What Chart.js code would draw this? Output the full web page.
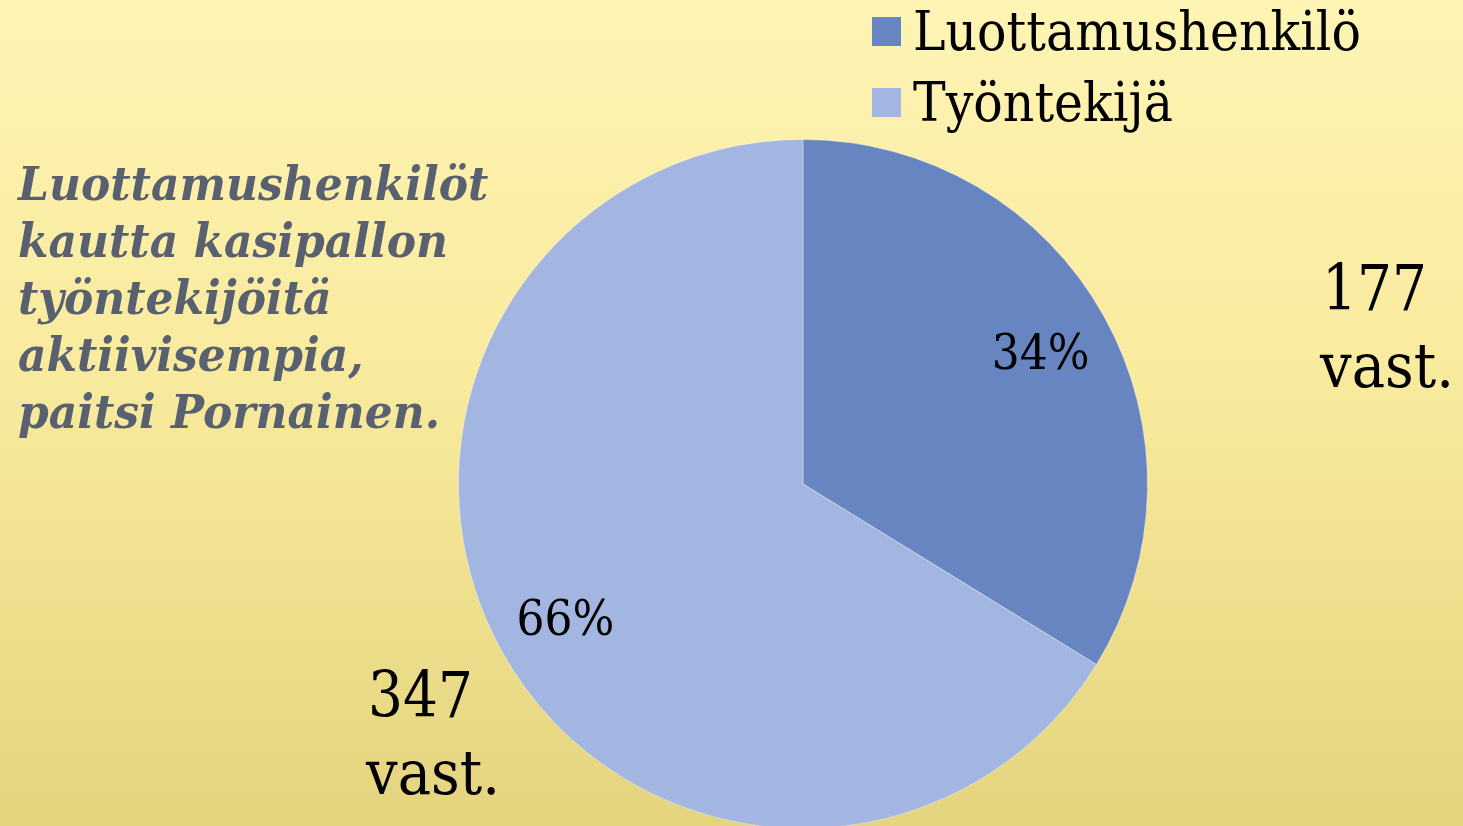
<!DOCTYPE html>
<html lang="fi">
<head>
<meta charset="utf-8">
<title>Luottamushenkilö / Työntekijä</title>
<script src="https://cdn.jsdelivr.net/npm/chart.js@4/dist/chart.umd.min.js"></script>
<style>
    html, body { margin: 0; padding: 0; overflow: hidden; }
    body {
        width: 1463px; height: 826px;
        background: linear-gradient(to bottom, #FEF4B4 0%, #F9EB9E 45%, #E4D47E 100%);
    }
    #wrap { position: absolute; left: 0; top: 0; width: 1463px; height: 860px; }
</style>
</head>
<body>
<div id="wrap"><canvas id="chartPie"></canvas></div>
<script>
// ── Data ──────────────────────────────────────────────────
const labels   = ['Luottamushenkilö', 'Työntekijä'];
const counts   = [177, 347];
const percents = [34, 66];
const colors   = ['#6785C1', '#A3B6E1'];
const noteLines = [
    'Luottamushenkilöt',
    'kautta kasipallon',
    'työntekijöitä',
    'aktiivisempia,',
    'paitsi Pornainen.'
];
const countSuffix = 'vast.';

// ── Layout (px) ───────────────────────────────────────────
const SERIF = '"DejaVu Serif", "Liberation Serif", serif';
const countPos = [ { x: 1322, y: 310 }, { x: 368, y: 717 } ];

// text drawn a bit taller than DejaVu to look like the original serif
function tallText(ctx, txt, x, y, sy) {
    ctx.save();
    ctx.translate(x, y);
    ctx.scale(1, sy);
    ctx.fillText(txt, 0, 0);
    ctx.restore();
}

// ── Overlay texts: legend, percentages, counts, note ─────
const overlay = {
    id: 'overlay',
    afterDraw(chart) {
        const ctx = chart.ctx;
        ctx.save();
        ctx.textBaseline = 'alphabetic';
        ctx.textAlign = 'left';

        // legend
        labels.forEach((lab, i) => {
            const y = 17 + i * 71;
            ctx.fillStyle = colors[i];
            ctx.fillRect(872, y, 29, 29);
            ctx.fillStyle = '#000';
            ctx.font = '49px ' + SERIF;
            tallText(ctx, lab, 913, y + 33, 1.12);
        });

        // percentages inside the slices
        const meta = chart.getDatasetMeta(0);
        ctx.font = '44px ' + SERIF;
        ctx.textAlign = 'center';
        meta.data.forEach((arc, i) => {
            const p = arc.getProps(['x', 'y', 'startAngle', 'endAngle', 'outerRadius'], true);
            const mid = (p.startAngle + p.endAngle) / 2;
            const r = p.outerRadius * 0.79;
            ctx.fillStyle = '#000';
            tallText(ctx, percents[i] + '%', p.x + Math.cos(mid) * r, p.y + Math.sin(mid) * r + 18, 1.12);
        });

        // counts
        ctx.textAlign = 'left';
        counts.forEach((c, i) => {
            ctx.fillStyle = '#000';
            ctx.font = '55px ' + SERIF;
            tallText(ctx, String(c), countPos[i].x, countPos[i].y, 1.15);
            ctx.font = '56px ' + SERIF;
            tallText(ctx, countSuffix, countPos[i].x - 2, countPos[i].y + 77, 1.1);
        });

        // note
        ctx.fillStyle = '#596171';
        ctx.font = 'italic bold 44px ' + SERIF;
        noteLines.forEach((line, i) => tallText(ctx, line, 18, 200 + i * 57, 1.08));

        ctx.restore();
    }
};

new Chart(document.getElementById('chartPie'), {
    type: 'pie',
    data: {
        labels: labels,
        datasets: [{
            data: counts,
            backgroundColor: colors,
            borderColor: 'rgba(255,255,255,0.35)',
            borderWidth: 1,
        }],
    },
    options: {
        responsive: true,
        maintainAspectRatio: false,
        animation: false,
        layout: { padding: { left: 458, top: 139, right: 315, bottom: 31 } },
        plugins: {
            legend: { display: false },
            tooltip: { enabled: false },
        },
    },
    plugins: [overlay],
});
</script>
</body>
</html>
